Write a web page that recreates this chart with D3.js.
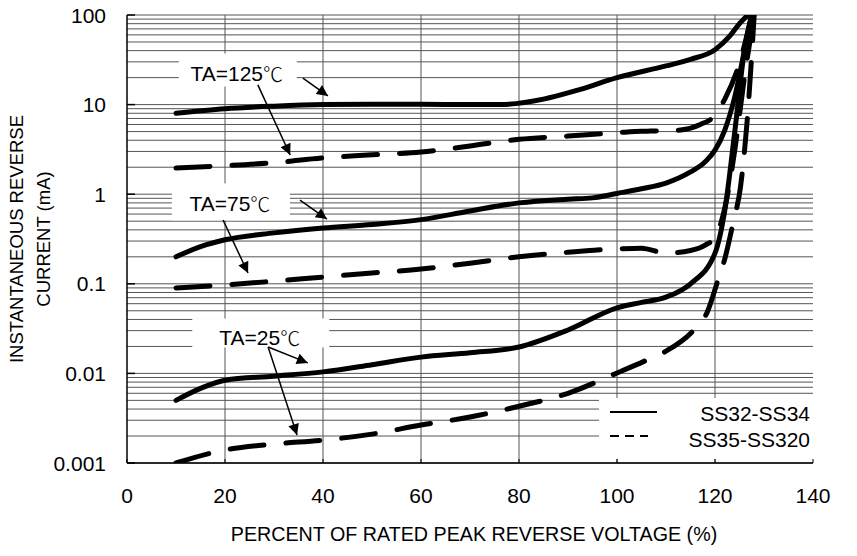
<!DOCTYPE html>
<html>
<head>
<meta charset="utf-8">
<script src="https://d3js.org/d3.v7.min.js"></script>
<style>
  body { margin:0; background:#fff; }
  text { font-family: "Liberation Sans", Arial, sans-serif; fill:#000; }
  .tick { font-size:21px; }
  .grid line { stroke:#555; stroke-width:1; }
  .curve { fill:none; stroke:#000; stroke-width:5; stroke-linecap:round; stroke-linejoin:round; }
  .dash { stroke-dasharray:34,22; }
</style>
</head>
<body>
<script>
// data (percent of rated voltage, current in mA)
var solid125X = [10,20,30,40,50,60,70,76,85,92,100,110,115,120,123,125,126.7];
var solid125Y = [8,9,9.6,10,10.1,10.1,10,10,11.5,14.5,20,27,32,41,58,80,100];
var dash125X = [10,20,30,40,50,60,70,80,90,100,105,109,113,117,120,122,125,127.5];
var dash125Y = [1.96,2.08,2.25,2.54,2.75,2.96,3.45,4.1,4.45,4.85,5.05,5.07,5.2,6,7.6,11.5,29,100];
var solid75X = [10,15,20,30,40,50,60,70,80,90,95,100,105,110,115,118,120,122,124,126,127.5];
var solid75Y = [0.2,0.26,0.31,0.37,0.42,0.46,0.52,0.65,0.8,0.88,0.91,1.02,1.15,1.33,1.77,2.3,3.1,5.2,12,40,100];
var dash75X = [10,20,30,40,50,60,70,80,90,100,105,110,115,118,120,122,124,126,128];
var dash75Y = [0.09,0.097,0.107,0.119,0.132,0.146,0.17,0.2,0.225,0.245,0.25,0.22,0.235,0.27,0.33,0.7,3,20,100];
var solid25X = [10,15,20,30,40,50,60,70,80,90,100,105,110,115,120,122,124,126,127.5];
var solid25Y = [0.005,0.0068,0.0084,0.0093,0.0104,0.0125,0.0152,0.017,0.0197,0.0305,0.054,0.062,0.071,0.1,0.22,0.66,4.8,40,100];
var dash25X = [10,20,30,40,50,60,70,80,90,100,106,110,116,118.4,120.6,122,123.7,125.2,126.5,128];
var dash25Y = [0.001,0.0014,0.00163,0.0018,0.0021,0.00265,0.00326,0.0043,0.006,0.0101,0.014,0.0177,0.032,0.048,0.11,0.19,0.48,1.2,6,100];

var xTicks = [0,20,40,60,80,100,120,140];
var yTicks = [0.001,0.01,0.1,1,10,100];
var yTickLabels = ["0.001","0.01","0.1","1","10","100"];

var labels = ["TA=125","TA=75","TA=25"];
var labelX = [22.4,21,27.1];
var labelY = [22.5,0.8,0.0255];
var boxW = [118,118,137], boxH = [33,37,29], boxDx = [1,1,1], boxDy = [-3,-1,-4];
// arrows: [x1,y1,x2,y2] in data units
var arrows = [
  [35.9,19.8,41.0,12.5],[26.7,16.6,33.3,2.74],
  [35.3,0.861,40.8,0.528],[19.6,0.515,24.7,0.132],
  [28.8,0.0197,36.9,0.0131],[28.8,0.0197,34.7,0.00205]
];
var legendNames = ["SS32-SS34","SS35-SS320"];

var W = 857, H = 556;
var svg = d3.select("body").append("svg").attr("width", W).attr("height", H);

var x = d3.scaleLinear().domain([0,140]).range([127,813]);
var y = d3.scaleLog().domain([0.001,100]).range([463,15]);

// grid
var minor = [];
for (var e = -3; e < 2; e++) for (var k = 1; k <= 9; k++) minor.push(k * Math.pow(10, e));
minor.push(100);
var grid = svg.append("g").attr("class","grid");
grid.selectAll(".h").data(minor).enter().append("line")
  .attr("x1", x(0)).attr("x2", x(140))
  .attr("y1", function(d){ return y(d); }).attr("y2", function(d){ return y(d); });
grid.selectAll(".v").data(xTicks.slice(1,7)).enter().append("line")
  .attr("x1", function(d){ return x(d); }).attr("x2", function(d){ return x(d); })
  .attr("y1", y(100)).attr("y2", y(0.001));

// label boxes (white) before curves
var lab = svg.append("g");
labels.forEach(function(t, i) {
  var cx = x(labelX[i]), cy = y(labelY[i]);
  lab.append("rect").attr("x", cx - boxW[i]/2 + boxDx[i]).attr("y", cy - boxH[i]/2 + boxDy[i])
    .attr("width", boxW[i]).attr("height", boxH[i]).attr("fill", "#fff");
});

// legend box
svg.append("rect").attr("x", 599).attr("y", 398).attr("width", 215).attr("height", 61).attr("fill","#fff");

// axes
svg.append("line").attr("x1", x(0)).attr("x2", x(0)).attr("y1", y(100)).attr("y2", y(0.001))
  .attr("stroke","#000").attr("stroke-width",1.5);
svg.append("line").attr("x1", x(0)).attr("x2", x(140)).attr("y1", y(0.001)).attr("y2", y(0.001))
  .attr("stroke","#000").attr("stroke-width",1.5);
svg.selectAll(".yt").data(yTicks).enter().append("line")
  .attr("x1", x(0)).attr("x2", x(0) + 8)
  .attr("y1", function(d){ return y(d); }).attr("y2", function(d){ return y(d); })
  .attr("stroke","#000").attr("stroke-width",1.5);
svg.selectAll(".xt").data(xTicks).enter().append("line")
  .attr("x1", function(d){ return x(d); }).attr("x2", function(d){ return x(d); })
  .attr("y1", y(0.001)).attr("y2", y(0.001) - 4)
  .attr("stroke","#000").attr("stroke-width",1);

svg.selectAll(".ytl").data(yTicks).enter().append("text")
  .attr("class","tick").attr("x", 106).attr("y", function(d){ return y(d); })
  .attr("text-anchor","end").attr("dominant-baseline","central")
  .text(function(d, i){ return yTickLabels[i]; });
svg.selectAll(".xtl").data(xTicks).enter().append("text")
  .attr("class","tick").attr("x", function(d){ return x(d); }).attr("y", 495)
  .attr("text-anchor","middle").attr("dominant-baseline","central")
  .text(function(d){ return d; });

svg.append("text").style("font-size","19.7px").attr("x", 474).attr("y", 534)
  .attr("text-anchor","middle").attr("dominant-baseline","central")
  .text("PERCENT OF RATED PEAK REVERSE VOLTAGE (%)");
svg.append("text").style("font-size","18.5px").attr("transform","translate(16,239) rotate(-90)")
  .attr("text-anchor","middle").attr("dominant-baseline","central")
  .text("INSTANTANEOUS REVERSE");
svg.append("text").style("font-size","18.5px").attr("transform","translate(43,239) rotate(-90)")
  .attr("text-anchor","middle").attr("dominant-baseline","central")
  .text("CURRENT (mA)");

// curves
svg.append("clipPath").attr("id","clip").append("rect")
  .attr("x", x(0)).attr("y", y(100)).attr("width", x(140) - x(0)).attr("height", y(0.001) - y(100));
var line = d3.line().x(function(d){ return x(d[0]); }).y(function(d){ return y(d[1]); })
  .curve(d3.curveMonotoneX);
var series = [
  [solid125X, solid125Y, false], [dash125X, dash125Y, true],
  [solid75X, solid75Y, false], [dash75X, dash75Y, true],
  [solid25X, solid25Y, false], [dash25X, dash25Y, true]
];
var cg = svg.append("g").attr("clip-path","url(#clip)");
series.forEach(function(s) {
  var pts = s[0].map(function(v, i){ return [v, s[1][i]]; });
  cg.append("path").attr("class", "curve" + (s[2] ? " dash" : "")).attr("d", line(pts));
});

// labels text
labels.forEach(function(t, i) {
  var tx = svg.append("text").attr("x", x(labelX[i])).attr("y", y(labelY[i]))
    .attr("text-anchor","middle").attr("dominant-baseline","central")
    .style("font-size","21px");
  tx.append("tspan").text(t);
  tx.append("tspan").style("font-family","'Noto Sans CJK JP'").style("font-weight","300")
    .style("font-size","20px").text("\u2103");
});

// arrows
svg.append("defs").append("marker").attr("id","ah")
  .attr("viewBox","0 0 10 10").attr("refX",10).attr("refY",5)
  .attr("markerWidth",14).attr("markerHeight",11).attr("markerUnits","userSpaceOnUse")
  .attr("orient","auto")
  .append("path").attr("d","M0,0L10,5L0,10Z").attr("fill","#000");
svg.selectAll(".arr").data(arrows).enter().append("line")
  .attr("x1", function(d){ return x(d[0]); }).attr("y1", function(d){ return y(d[1]); })
  .attr("x2", function(d){ return x(d[2]); }).attr("y2", function(d){ return y(d[3]); })
  .attr("stroke","#000").attr("stroke-width",1.5).attr("marker-end","url(#ah)");

// legend
svg.append("line").attr("x1",610).attr("x2",657).attr("y1",412).attr("y2",412)
  .attr("stroke","#000").attr("stroke-width",2);
svg.append("line").attr("x1",610).attr("x2",648).attr("y1",436).attr("y2",436)
  .attr("stroke","#000").attr("stroke-width",2).attr("stroke-dasharray","9,6");
legendNames.forEach(function(n, i) {
  svg.append("text").attr("class","tick").attr("x", 810).attr("y", 413 + i * 26)
    .attr("text-anchor","end").attr("dominant-baseline","central").text(n);
});
</script>
</body>
</html>
